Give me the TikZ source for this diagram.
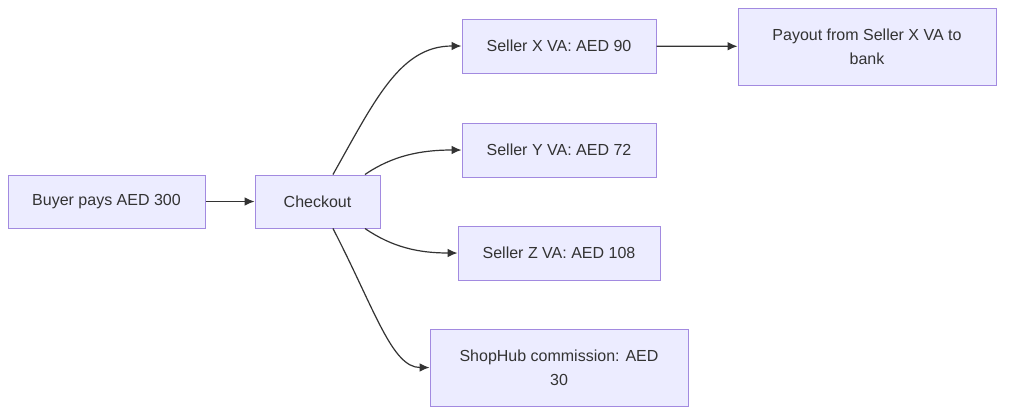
\documentclass[tikz,border=0pt]{standalone}
\usepackage{fontspec}
\setmainfont{Liberation Sans}
\usetikzlibrary{arrows.meta}
\definecolor{boxfill}{HTML}{ECECFF}
\definecolor{boxline}{HTML}{A28AE0}
\definecolor{edgecol}{HTML}{333333}
\begin{document}
\begin{tikzpicture}[x=0.75pt,y=-0.75pt,
  box/.style={draw=boxline,fill=boxfill,line width=0.75pt,inner sep=0pt,align=center,
    font=\fontsize{12pt}{18pt}\selectfont,text=edgecol},
  edge/.style={draw=edgecol,line width=0.9pt,-{Latex[length=7.5pt,width=6.5pt]}}]
\useasboundingbox[fill=white] (0,0) rectangle (1012,418);
\node[box,minimum width=147.75pt,minimum height=39.75pt] (buyer) at (106.5,201.5) {Buyer pays AED 300};
\node[box,minimum width=93.75pt,minimum height=39.75pt] (chk) at (317.5,201.5) {Checkout};
\node[box,minimum width=145.5pt,minimum height=40.5pt] (sx) at (559,46) {Seller X VA: AED 90};
\node[box,minimum width=193.5pt,minimum height=57.75pt] (pay) at (867,46.5) {Payout from Seller X VA to\\bank};
\node[box,minimum width=145.5pt,minimum height=40.5pt] (sy) at (559,150) {Seller Y VA: AED 72};
\node[box,minimum width=151.5pt,minimum height=40.5pt] (sz) at (559,253) {Seller Z VA: AED 108};
\node[box,minimum width=193.5pt,minimum height=57.75pt] (shop) at (559,367.5) {ShopHub commission: AED\\30};
\draw[edge] (buyer) -- (chk);
\draw[edge] (sx) -- (pay);
\draw[edge] ([xshift=11.6pt]chk.north) .. controls (375,100) and (400,46) .. (sx.west);
\draw[edge] ([xshift=35.6pt]chk.north) .. controls (392,156) and (420,150) .. (sy.west);
\draw[edge] ([xshift=35.6pt]chk.south) .. controls (392,247) and (418,253) .. (sz.west);
\draw[edge] ([xshift=11.6pt]chk.south) .. controls (375,310) and (392,367.5) .. (shop.west);
\end{tikzpicture}
\end{document}
